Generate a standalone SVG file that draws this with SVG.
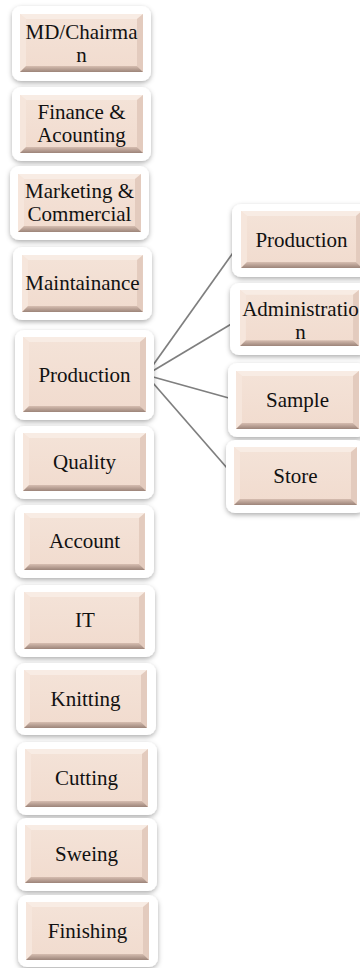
<svg xmlns="http://www.w3.org/2000/svg" xmlns:xlink="http://www.w3.org/1999/xlink" width="360" height="968" viewBox="0 0 360 968">
<style>
.frame{fill:#ffffff;filter:url(#sh)}
.lbl{font-family:"Liberation Serif","Times New Roman","DejaVu Serif",serif;font-size:21px;fill:#111;text-anchor:middle}
.conn{stroke:#7f7f7f;stroke-width:1.7;fill:none}
</style>
<defs>
<filter id="sh" x="-20%" y="-30%" width="140%" height="160%">
<feDropShadow dx="0" dy="2" stdDeviation="2.6" flood-color="#000" flood-opacity="0.32"/>
</filter>
<linearGradient id="face" x1="0" y1="0" x2="0" y2="1">
<stop offset="0" stop-color="#f4e3d8"/>
<stop offset="1" stop-color="#f1dbce"/>
</linearGradient>
<linearGradient id="bot" x1="0" y1="0" x2="0" y2="1">
<stop offset="0" stop-color="#d6bdb0"/>
<stop offset="1" stop-color="#9c8479"/>
</linearGradient>
<symbol id="box" viewBox="0 0 123 58" width="123" height="58">
<rect width="123" height="58" fill="url(#face)"/>
<polygon points="0,0 123,0 117,5 6,5" fill="#f8ece4"/>
<polygon points="0,0 6,5 6,52 0,58" fill="#f6e6dc"/>
<polygon points="123,0 123,58 117,52 117,5" fill="#e3cbbe"/>
<polygon points="0,58 6,52 117,52 123,58" fill="url(#bot)"/>
</symbol>
<symbol id="boxT" viewBox="0 0 123 75" width="123" height="75">
<rect width="123" height="75" fill="url(#face)"/>
<polygon points="0,0 123,0 117,5 6,5" fill="#f8ece4"/>
<polygon points="0,0 6,5 6,69 0,75" fill="#f6e6dc"/>
<polygon points="123,0 123,75 117,69 117,5" fill="#e3cbbe"/>
<polygon points="0,75 6,69 117,69 123,75" fill="url(#bot)"/>
</symbol>
</defs>

<g id="connectors">
<line class="conn" x1="146" y1="375" x2="240" y2="243"/>
<line class="conn" x1="146" y1="375" x2="238" y2="320"/>
<line class="conn" x1="146" y1="375" x2="236" y2="400"/>
<line class="conn" x1="146" y1="375" x2="234" y2="476"/>
</g>

<g id="md">
<rect class="frame" x="12" y="6" width="139" height="75" rx="9"/>
<use xlink:href="#box" x="20" y="14"/>
<text class="lbl" x="81.5" y="39">MD/Chairma</text>
<text class="lbl" x="81.5" y="62">n</text>
</g>
<g id="finance">
<rect class="frame" x="12" y="87" width="139" height="74" rx="9"/>
<use xlink:href="#box" x="20" y="95"/>
<text class="lbl" x="81.5" y="119">Finance &amp;</text>
<text class="lbl" x="81.5" y="142">Acounting</text>
</g>
<g id="marketing">
<rect class="frame" x="10" y="166" width="139" height="74" rx="9"/>
<use xlink:href="#box" x="18" y="174"/>
<text class="lbl" x="79.5" y="198">Marketing &amp;</text>
<text class="lbl" x="79.5" y="221">Commercial</text>
</g>
<g id="maintainance">
<rect class="frame" x="13" y="247" width="139" height="73" rx="9"/>
<use xlink:href="#box" x="21" y="255" height="57"/>
<text class="lbl" x="82.5" y="290">Maintainance</text>
</g>
<g id="production">
<rect class="frame" x="15" y="330" width="139" height="90" rx="9"/>
<use xlink:href="#boxT" x="23" y="337"/>
<text class="lbl" x="84.5" y="382">Production</text>
</g>
<g id="quality">
<rect class="frame" x="15" y="426" width="139" height="73" rx="9"/>
<use xlink:href="#box" x="23" y="433"/>
<text class="lbl" x="84.5" y="469">Quality</text>
</g>
<g id="account">
<rect class="frame" x="15" y="505" width="139" height="73" rx="9"/>
<use xlink:href="#box" x="23" y="513" height="57"/>
<text class="lbl" x="84.5" y="548">Account</text>
</g>
<g id="it">
<rect class="frame" x="15" y="585" width="140" height="72" rx="9"/>
<use xlink:href="#box" x="23" y="592" height="57"/>
<text class="lbl" x="85" y="627">IT</text>
</g>
<g id="knitting">
<rect class="frame" x="16" y="663" width="140" height="72" rx="9"/>
<use xlink:href="#box" x="24" y="670"/>
<text class="lbl" x="85.5" y="706">Knitting</text>
</g>
<g id="cutting">
<rect class="frame" x="17" y="742" width="140" height="73" rx="9"/>
<use xlink:href="#box" x="25" y="749"/>
<text class="lbl" x="86.5" y="785">Cutting</text>
</g>
<g id="sweing">
<rect class="frame" x="17" y="818" width="140" height="73" rx="9"/>
<use xlink:href="#box" x="25" y="825"/>
<text class="lbl" x="86.5" y="861">Sweing</text>
</g>
<g id="finishing">
<rect class="frame" x="18" y="895" width="140" height="72" rx="9"/>
<use xlink:href="#box" x="26" y="902"/>
<text class="lbl" x="87.5" y="938">Finishing</text>
</g>

<g id="sub-production">
<rect class="frame" x="232" y="204" width="139" height="73" rx="9"/>
<use xlink:href="#box" x="240" y="211" height="57"/>
<text class="lbl" x="301.5" y="247">Production</text>
</g>
<g id="sub-administration">
<rect class="frame" x="230" y="283" width="139" height="72" rx="9"/>
<use xlink:href="#box" x="238" y="290" height="56"/>
<text class="lbl" x="300.5" y="316">Administratio</text>
<text class="lbl" x="300.5" y="339">n</text>
</g>
<g id="sub-sample">
<rect class="frame" x="228" y="363" width="139" height="74" rx="9"/>
<use xlink:href="#box" x="236" y="371"/>
<text class="lbl" x="297.5" y="407">Sample</text>
</g>
<g id="sub-store">
<rect class="frame" x="226" y="440" width="139" height="73" rx="9"/>
<use xlink:href="#box" x="234" y="447"/>
<text class="lbl" x="295.5" y="483">Store</text>
</g>
</svg>
